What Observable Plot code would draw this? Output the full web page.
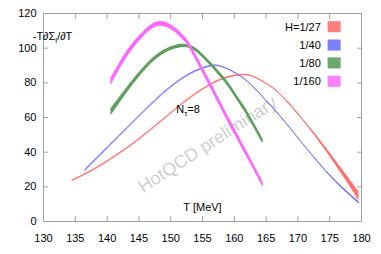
<!DOCTYPE html>
<html><head><meta charset="utf-8">
<script src="https://cdn.jsdelivr.net/npm/d3@7"></script>
<script src="https://cdn.jsdelivr.net/npm/@observablehq/plot@0.6"></script>
<style>body{margin:0;background:#fff}#chart{width:381px;height:254px}</style>
</head><body><div id="chart"></div>
<script>
const seriesNames = ["H=1/27", "1/40", "1/80", "1/160"];
const bandColors = ["#ff7070", "#7474ff", "#5f9f5f", "#ff66ff"];
const swatchColors = ["#ff7f7f", "#7f7fff", "#6fa86f", "#ff80ff"];

const T27 = [134.5, 138, 143.2, 148.4, 151, 153.5, 156, 158.5, 161, 163, 165.7, 168, 170.5, 173, 175.7, 178.3, 179.6];
const V27 = [23.7, 30.2, 42.5, 57.5, 65.5, 72.5, 78.5, 82.6, 84.6, 83.5, 78, 70.5, 60, 48.5, 35, 21.5, 14.5];
const E27 = [0.3, 0.3, 0.3, 0.3, 0.3, 0.3, 0.3, 0.3, 0.3, 0.3, 0.3, 0.4, 0.5, 0.8, 1.3, 2, 2.5];

const T40 = [136.5, 140.6, 145.8, 148.4, 150.5, 153.2, 156, 158, 160.5, 162.6, 164.7, 167.8, 170.4, 173, 175.7, 178.3, 179.6];
const V40 = [29.4, 44.5, 63.5, 72.5, 79, 85.5, 89.5, 89.3, 85, 79, 71, 58.3, 46.5, 35, 24, 15, 10.8];
const E40 = [0.3, 0.3, 0.3, 0.3, 0.3, 0.3, 0.3, 0.3, 0.3, 0.3, 0.3, 0.3, 0.3, 0.4, 0.5, 0.6, 0.7];

const T80 = [140.6, 143, 145.5, 148.4, 151.6, 153.5, 155.2, 158.4, 160.5, 162.1, 164.5];
const V80 = [63, 75, 86.5, 96.5, 101.2, 100, 95, 82, 71, 62, 46.3];
const E80 = [2, 1.6, 1.3, 1.1, 1.0, 1.0, 1.1, 1.3, 1.4, 1.5, 1.5];

const T160 = [140.6, 143.2, 145.8, 148.2, 150.5, 152, 153.2, 155.8, 157.9, 159.4, 162.1, 164.5];
const V160 = [80.5, 96.8, 108.3, 114, 111, 106, 100, 82, 67, 56.5, 38, 21.3];
const E160 = [2.1, 1.8, 1.5, 1.4, 1.4, 1.5, 1.6, 1.8, 1.8, 1.8, 1.7, 1.5];

const xTicks = [130, 135, 140, 145, 150, 155, 160, 165, 170, 175, 180];
const yTicks = [0, 20, 40, 60, 80, 100, 120];

const seriesT = [T27, T40, T80, T160];
const seriesV = [V27, V40, V80, V160];
const seriesE = [E27, E40, E80, E160];

const rows = [];
seriesNames.forEach((name, s) => {
  seriesT[s].forEach((t, i) => rows.push({series: name, T: t, v: seriesV[s][i], lo: seriesV[s][i] - seriesE[s][i], hi: seriesV[s][i] + seriesE[s][i]}));
});

// legend layout (data units inside frame)
const legendY = [112.1, 101.5, 91.2, 80.6];
const legend = seriesNames.map((n, i) => ({name: n, color: swatchColors[i], y: legendY[i]}));

const font = "'Liberation Sans', Arial, Helvetica, sans-serif";
const curve = "natural";

const marks = [
  Plot.text(["HotQCD preliminary"], {x: 155.8, y: 44.4, rotate: -33, fontSize: 18, fill: "#cfcfcf", fontFamily: font}),
];
seriesNames.forEach((name, s) => {
  const d = rows.filter(r => r.series === name);
  marks.push(Plot.areaY(d, {x: "T", y1: "lo", y2: "hi", fill: bandColors[s], curve}));
  marks.push(Plot.line(d, {x: "T", y: "v", stroke: bandColors[s], strokeWidth: 0.9, curve}));
});
marks.push(
  Plot.frame({stroke: "#a0a0a0"}),
  Plot.axisX(xTicks, {tickSize: -5, fill: "none", stroke: "#a0a0a0", label: null}),
  Plot.axisX(xTicks, {anchor: "top", tickSize: -5, fill: "none", stroke: "#a0a0a0", label: null}),
  Plot.axisY(yTicks, {tickSize: -5, fill: "none", stroke: "#a0a0a0", label: null}),
  Plot.axisY(yTicks, {anchor: "right", tickSize: -5, fill: "none", stroke: "#a0a0a0", label: null}),
  Plot.axisX(xTicks, {tickSize: 0, tickPadding: 13, fontSize: 11, label: null, fill: "#000"}),
  Plot.axisY(yTicks, {tickSize: 0, tickPadding: 7, fontSize: 11, label: null, fill: "#000"}),
  Plot.rect(legend, {x1: 174.75, x2: 176.8, y1: d => d.y - 3.2, y2: d => d.y + 3.2, fill: "color"}),
  Plot.text(legend, {x: 173.6, y: "y", text: "name", textAnchor: "end", fontSize: 11, fill: "#000"}),
  Plot.text(["T [MeV]"], {x: 155, y: 8, fontSize: 11, fill: "#000"})
);

const chart = Plot.plot({
  width: 381, height: 254,
  marginLeft: 43, marginRight: 20, marginTop: 13, marginBottom: 33,
  x: {domain: [130, 180]},
  y: {domain: [0, 120]},
  style: {fontFamily: font, fontSize: "11px", background: "white", color: "#000"},
  marks
});
document.getElementById("chart").appendChild(chart);

// subscripted annotations
const sx = chart.scale("x"), sy = chart.scale("y");
const svg = d3.select(chart);
const t1 = svg.append("text").attr("x", sx.apply(131.5)).attr("y", sy.apply(104.6))
  .attr("font-family", font).attr("font-size", 11).attr("fill", "#000");
t1.append("tspan").text("-T\u2202\u03A3");
t1.append("tspan").attr("font-size", 8).attr("dy", 3).text("l");
t1.append("tspan").attr("dy", -3).text("/\u2202T");

const t2 = svg.append("text").attr("x", sx.apply(152.8)).attr("y", sy.apply(62.5))
  .attr("font-family", font).attr("font-size", 11).attr("fill", "#000");
t2.append("tspan").text("N");
t2.append("tspan").attr("font-size", 8).attr("dy", 3).text("\u03C4");
t2.append("tspan").attr("dy", -3).text("=8");
</script>
</body></html>
